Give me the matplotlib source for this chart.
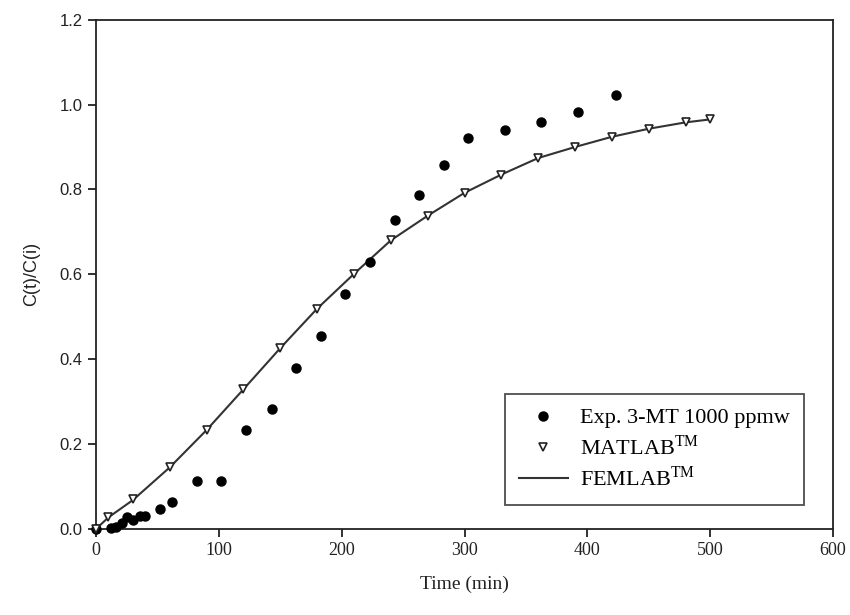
import numpy as np
import matplotlib
matplotlib.use("Agg")
import matplotlib.pyplot as plt

plt.rcParams['mathtext.fontset'] = 'custom'
plt.rcParams['mathtext.rm'] = 'Liberation Serif'

# experimental points (Exp. 3-MT 1000 ppmw)
exp_t = [0, 12, 16, 21, 25, 30, 36, 40, 52, 62, 82, 102, 122, 143, 163, 183,
         203, 223, 243, 263, 283, 303, 333, 362, 392, 423]
exp_c = [0.0, 0.002, 0.004, 0.013, 0.028, 0.022, 0.030, 0.031, 0.046, 0.064,
         0.112, 0.113, 0.233, 0.282, 0.379, 0.454, 0.553, 0.630, 0.729, 0.788,
         0.858, 0.920, 0.941, 0.960, 0.982, 1.022]

# MATLAB model
mat_t = [0, 10, 30, 60, 90, 120, 150, 180, 210, 240, 270, 300, 330, 360, 390,
         420, 450, 480, 500]
mat_c = [0.0, 0.029, 0.070, 0.145, 0.233, 0.329, 0.426, 0.519, 0.601, 0.680,
         0.738, 0.792, 0.835, 0.874, 0.900, 0.924, 0.943, 0.958, 0.965]

# FEMLAB model
fem_t = [0, 10, 30, 60, 90, 120, 150, 180, 210, 240, 270, 300, 330, 360, 390,
         420, 450, 480, 500]
fem_c = [0.0, 0.027, 0.068, 0.145, 0.233, 0.329, 0.426, 0.519, 0.601, 0.680,
         0.738, 0.792, 0.835, 0.874, 0.900, 0.924, 0.943, 0.958, 0.965]

fig = plt.figure(figsize=(8.5, 6.15), dpi=100)
ax = fig.add_axes([0.113, 0.140, 0.867, 0.828])

ax.plot(exp_t, exp_c, 'o', color='black', markersize=6.5, linestyle='none',
        label='Exp. 3-MT 1000 ppmw', zorder=3, clip_on=False)
ax.plot(mat_t, mat_c, 'v', markerfacecolor='white', markeredgecolor='#222222',
        markeredgewidth=1.2, markersize=6, linestyle='none',
        label='MATLAB$^{\\mathrm{TM}}$', zorder=4, clip_on=False)
ax.plot(fem_t, fem_c, '-', color='#333333', linewidth=1.5,
        label='FEMLAB$^{\\mathrm{TM}}$', zorder=2)

ax.set_xlim(0, 600)
ax.set_ylim(0, 1.2)
ax.set_xticks(np.arange(0, 601, 100))
ax.set_yticks(np.arange(0, 1.21, 0.2))
ax.set_yticklabels(['%.1f' % v for v in np.arange(0, 1.21, 0.2)])

for s in ax.spines.values():
    s.set_linewidth(1.3)
    s.set_color('#222222')
ax.tick_params(direction='out', length=6, width=1.3, colors='#222222',
               top=False, right=False)
for lab in ax.get_xticklabels():
    lab.set_fontfamily('Liberation Serif')
    lab.set_fontsize(13)
for lab in ax.get_yticklabels():
    lab.set_fontfamily('Liberation Sans')
    lab.set_fontsize(12)

ax.set_xlabel('Time (min)', fontfamily='Liberation Serif', fontsize=14,
              color='#222222', labelpad=12)
ax.set_ylabel('C(t)/C(i)', fontfamily='Liberation Sans', fontsize=13,
              color='#222222', labelpad=14)

leg = ax.legend(loc='upper left', bbox_to_anchor=(0.555, 0.265),
                borderaxespad=0, frameon=True, fancybox=False,
                prop={'family': 'Liberation Serif', 'size': 16},
                handlelength=2.2, handletextpad=0.55, borderpad=0.62,
                labelspacing=0.3)
leg.get_frame().set_edgecolor('#222222')
leg.get_frame().set_linewidth(1.3)

fig.savefig('out.png', dpi=100)
